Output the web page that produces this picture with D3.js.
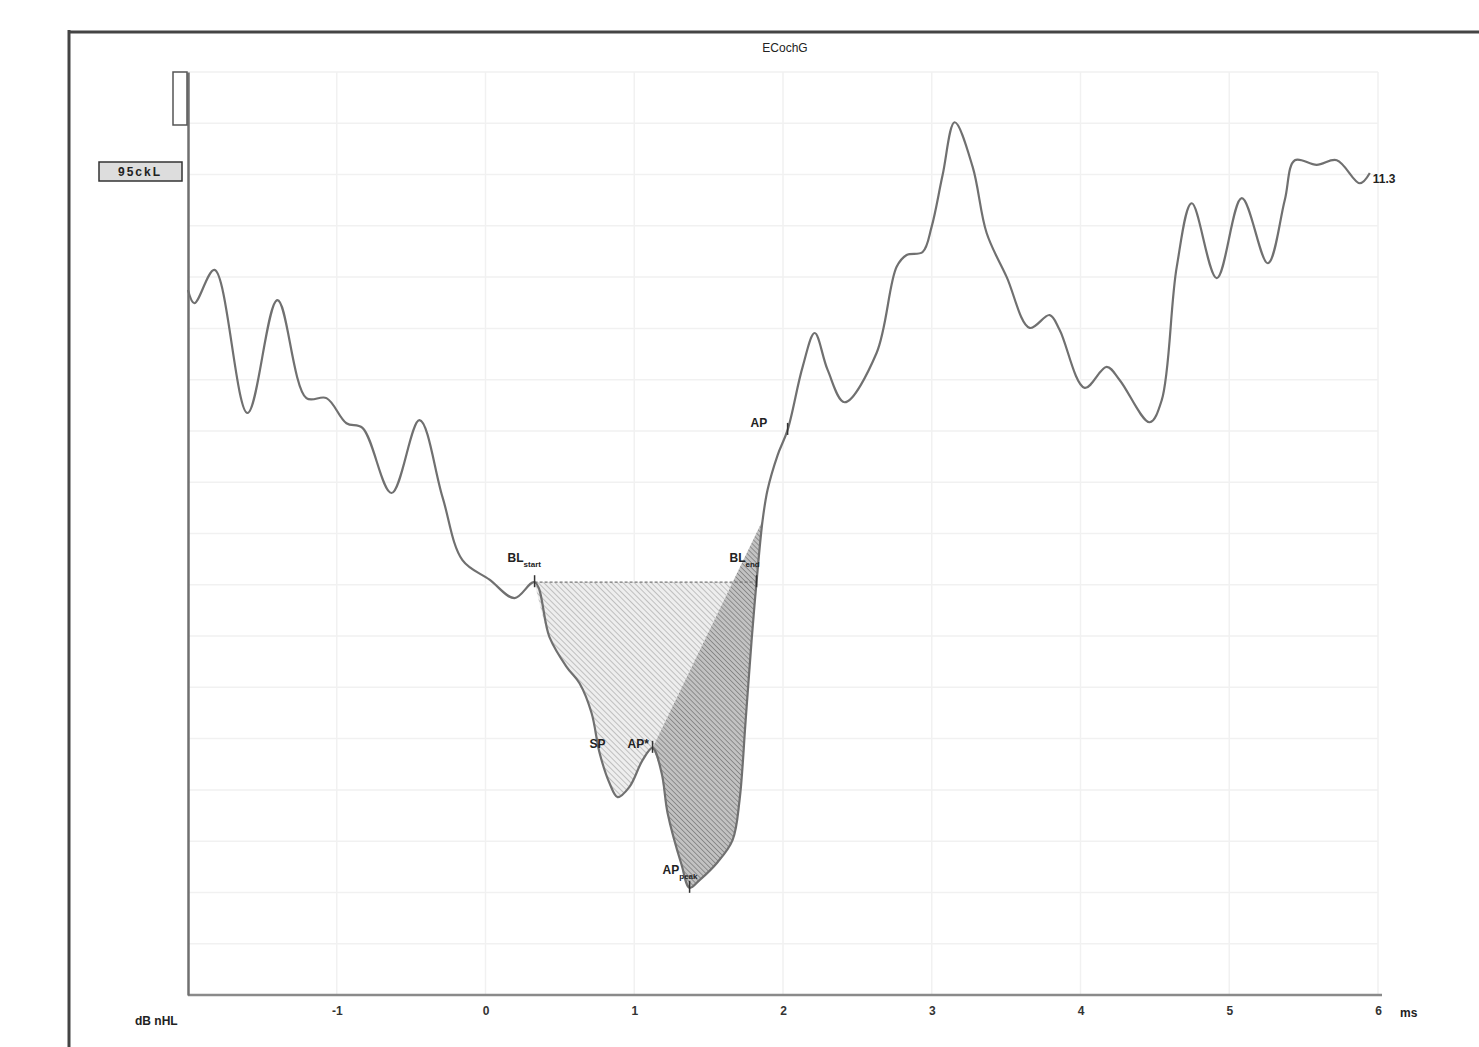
<!DOCTYPE html>
<meta charset="utf-8">
<head>
  <title>ECochG</title>
</head>

<style>
body { margin: 0; background: #fff; }
text {
  font-family: "Liberation Sans", Arial, sans-serif;
  fill: #222;
  font-size: 12px;
}
.grid line { stroke: #f1f1f1; stroke-width: 1.5; }
.wave { fill: none; stroke: #707070; stroke-width: 2.2; }
.lbl { font-weight: bold; font-size: 12px; }
.sub { font-size: 8px; }
.axis text { font-weight: bold; font-size: 12px; fill: #333; }
</style>

<body>
  <svg width="1479" height="1047"></svg>

  <script src="https://cdnjs.cloudflare.com/ajax/libs/d3/7.8.5/d3.min.js"></script>
  <script>

// latency in ms
var times = [-2.0, -1.957, -1.822, -1.600, -1.399, -1.204, -1.069, -0.935, -0.827, -0.632,
  -0.444, -0.289, -0.155, 0.027, 0.195, 0.330, 0.430, 0.545, 0.632, 0.713,
  0.767, 0.834, 0.888, 0.968, 1.056, 1.123, 1.184, 1.224, 1.318, 1.372,
  1.439, 1.560, 1.661, 1.708, 1.749, 1.789, 1.822, 1.863, 1.896, 1.964,
  2.031, 2.132, 2.213, 2.300, 2.414, 2.629, 2.764, 2.831, 2.939, 2.999,
  3.073, 3.154, 3.275, 3.369, 3.504, 3.658, 3.793, 3.860, 4.028, 4.176,
  4.264, 4.465, 4.546, 4.647, 4.748, 4.916, 5.084, 5.259, 5.373, 5.441,
  5.588, 5.723, 5.878, 5.945];

// amplitude, in grid divisions
var values = [13.75, 13.49, 14.14, 11.35, 13.55, 11.64, 11.64, 11.15, 11.06, 9.79,
  11.21, 9.71, 8.48, 8.10, 7.74, 8.05, 6.98, 6.40, 6.08, 5.50,
  4.72, 4.13, 3.86, 4.06, 4.58, 4.82, 4.33, 3.55, 2.54, 2.09,
  2.24, 2.59, 3.02, 3.80, 5.36, 6.92, 8.05, 9.26, 9.85, 10.53,
  11.02, 12.25, 12.91, 12.19, 11.56, 12.52, 14.20, 14.43, 14.49, 14.98,
  15.99, 17.02, 16.15, 14.86, 14.00, 13.01, 13.26, 12.97, 11.84, 12.25,
  11.99, 11.17, 11.60, 14.20, 15.44, 13.98, 15.54, 14.27, 15.50, 16.28,
  16.19, 16.28, 15.83, 16.03];

var xTicks = [-1, 0, 1, 2, 3, 4, 5, 6];
var yGrid = d3.range(1, 19);

// marker indices into times/values
var iBLstart = 15, iAPstar = 25, iAPpeak = 29, iBLend = 36, iDarkEnd = 37, iAP = 40;

var curveTitle = "ECochG";
var curveLabel = "95ckL";
var endLabel = "11.3";

var svg = d3.select('svg');

svg.append('rect').attr('width', 1479).attr('height', 1047).attr('fill', '#fff');

var x = d3.scaleLinear().domain([-2, 6]).range([188, 1378]);
var y = d3.scaleLinear().domain([0, 18]).range([995, 72]);

var pts = times.map(function(t, i) { return [t, values[i]]; });

// hatch patterns
var defs = svg.append('defs');
function hatch(id, bg, fg, gap) {
  var p = defs.append('pattern')
    .attr('id', id)
    .attr('patternUnits', 'userSpaceOnUse')
    .attr('width', gap).attr('height', gap)
    .attr('patternTransform', 'rotate(-45)');
  p.append('rect').attr('width', gap).attr('height', gap).attr('fill', bg);
  p.append('line').attr('x1', 0).attr('y1', 0).attr('x2', 0).attr('y2', gap)
    .attr('stroke', fg).attr('stroke-width', 1.2);
}
hatch('light', '#eeeeee', '#a0a0a0', 4);
hatch('dark', '#c2c2c2', '#686868', 3.5);

// outer frame
svg.append('line').attr('x1', 68).attr('x2', 1479).attr('y1', 32).attr('y2', 32)
  .attr('stroke', '#444').attr('stroke-width', 3);
svg.append('line').attr('x1', 69).attr('x2', 69).attr('y1', 30).attr('y2', 1047)
  .attr('stroke', '#444').attr('stroke-width', 3);

// grid
var grid = svg.append('g').attr('class', 'grid');
grid.selectAll('.v').data(xTicks).enter().append('line')
  .attr('x1', function(d) { return x(d); }).attr('x2', function(d) { return x(d); })
  .attr('y1', y(18)).attr('y2', y(0));
grid.selectAll('.h').data(yGrid).enter().append('line')
  .attr('x1', x(-2)).attr('x2', x(6))
  .attr('y1', function(d) { return y(d); }).attr('y2', function(d) { return y(d); });

var line = d3.line()
  .x(function(d) { return x(d[0]); })
  .y(function(d) { return y(d[1]); })
  .curve(d3.curveCatmullRom.alpha(0.5));

// baseline and shaded areas
var base = values[iBLstart];
var a = pts[iAPstar], b = pts[iDarkEnd];
var f = (base - a[1]) / (b[1] - a[1]);
var cross = [a[0] + f * (b[0] - a[0]), base];

svg.append('path')
  .attr('d', line(pts.slice(iBLstart, iAPstar + 1)) +
    'L' + x(cross[0]) + ',' + y(cross[1]) +
    'L' + x(pts[iBLstart][0]) + ',' + y(base) + 'Z')
  .attr('fill', 'url(#light)');

svg.append('path')
  .attr('d', line(pts.slice(iAPstar, iDarkEnd + 1)) + 'Z')
  .attr('fill', 'url(#dark)');

svg.append('line')
  .attr('x1', x(times[iBLstart])).attr('x2', x(times[iBLend]))
  .attr('y1', y(base)).attr('y2', y(base))
  .attr('stroke', '#777').attr('stroke-width', 1.2)
  .attr('stroke-dasharray', '3,2');

// axes
var xAxis = svg.append('g').attr('class', 'axis')
  .attr('transform', 'translate(0,' + y(0) + ')')
  .call(d3.axisBottom(x).tickValues(xTicks).tickSize(0).tickSizeOuter(0).tickPadding(11)
    .tickFormat(function(d) { return String(d); }));
xAxis.select('.domain').attr('stroke', '#8a8a8a').attr('stroke-width', 2.5)
  .attr('d', 'M' + x(-2) + ',0H' + (x(6) + 4));

var yAxis = svg.append('g').attr('class', 'axis')
  .attr('transform', 'translate(' + x(-2) + ',0)')
  .call(d3.axisLeft(y).tickValues([]).tickSizeOuter(0));
yAxis.select('.domain').attr('stroke', '#707070').attr('stroke-width', 2.5);

// waveform
svg.append('path').datum(pts).attr('class', 'wave').attr('d', line);

// curve handle and label
svg.append('rect').attr('x', x(-2) - 15).attr('y', y(18)).attr('width', 14).attr('height', 53)
  .attr('fill', '#fff').attr('stroke', '#555').attr('stroke-width', 1.5);
svg.append('rect').attr('x', 99).attr('y', 162).attr('width', 83).attr('height', 19)
  .attr('fill', '#ddd').attr('stroke', '#333').attr('stroke-width', 1.5);
svg.append('text').attr('class', 'lbl').attr('x', 140).attr('y', 176)
  .attr('text-anchor', 'middle').attr('letter-spacing', 2).text(curveLabel);

// titles
svg.append('text').attr('x', 785).attr('y', 52).attr('text-anchor', 'middle')
  .attr('font-size', 12).text(curveTitle);
svg.append('text').attr('class', 'lbl').attr('x', 135).attr('y', 1025).attr('font-size', 11).text('dB nHL');
svg.append('text').attr('class', 'lbl').attr('x', x(6) + 22).attr('y', 1017).attr('font-size', 12).text('ms');

// end value
var last = pts[pts.length - 1];
svg.append('text').attr('class', 'lbl').attr('x', x(last[0]) + 3).attr('y', y(last[1]) + 10)
  .attr('font-size', 12).text(endLabel);

// markers
function mark(i) {
  svg.append('line')
    .attr('x1', x(times[i])).attr('x2', x(times[i]))
    .attr('y1', y(values[i]) - 7).attr('y2', y(values[i]) + 5)
    .attr('stroke', '#333').attr('stroke-width', 1.5);
}
[iBLstart, iBLend, iAPstar, iAPpeak, iAP].forEach(mark);

function label(i, dx, dy, main, sub) {
  var t = svg.append('text').attr('class', 'lbl')
    .attr('x', x(times[i]) + dx).attr('y', y(values[i]) + dy);
  t.append('tspan').text(main);
  if (sub) t.append('tspan').attr('class', 'sub').attr('dy', 5).text(sub);
}
label(iBLstart, -27, -20, 'BL', 'start');
label(iBLend, -27, -20, 'BL', 'end');
label(iAP, -37, -3, 'AP', '');
label(iAPstar, -63, 0, 'SP', '');
label(iAPstar, -25, 0, 'AP*', '');
label(iAPpeak, -27, -14, 'AP', 'peak');

  </script>
</body>
</html>
